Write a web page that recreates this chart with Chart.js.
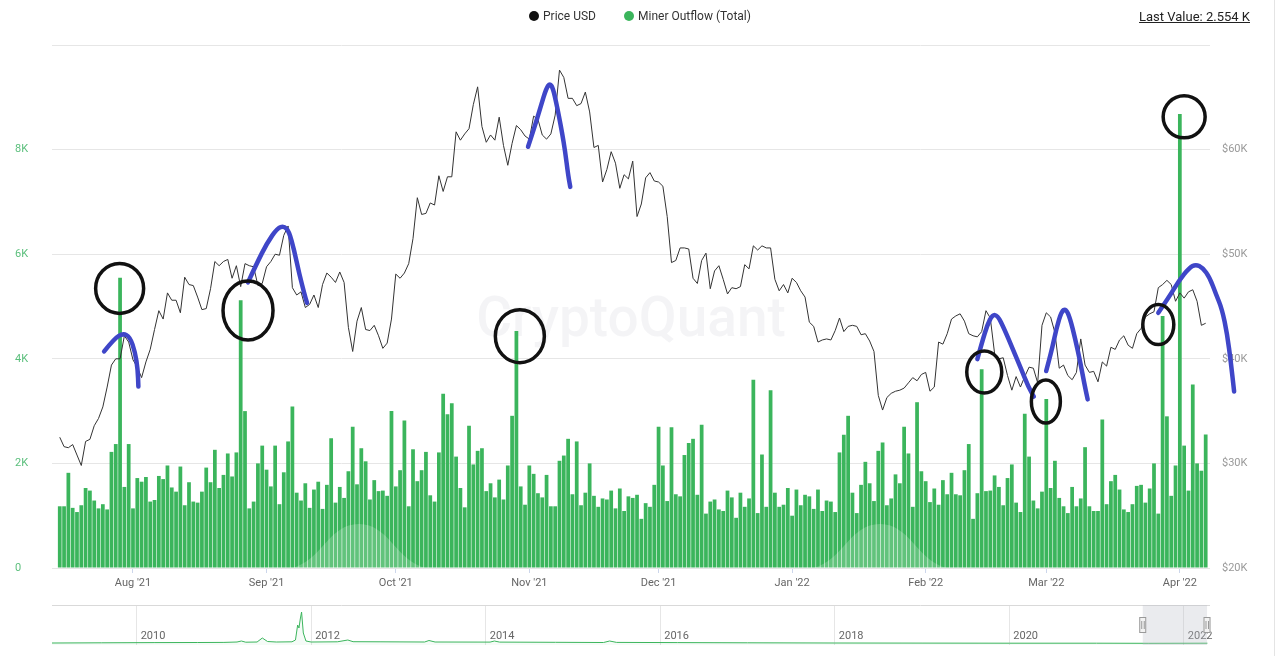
<!DOCTYPE html>
<html>
<head>
<meta charset="utf-8">
<script src="https://cdn.jsdelivr.net/npm/chart.js@4.4.1/dist/chart.umd.min.js"></script>
<style>
html,body{margin:0;padding:0;background:#fff;}
#wrap{position:relative;width:1280px;height:656px;overflow:hidden;font-family:Roboto,'Noto Sans',Arial,sans-serif;}
#mainBox{position:absolute;left:0;top:0;width:1280px;height:600px;}
#navBox{position:absolute;left:0;top:600px;width:1280px;height:56px;}
#legend{position:absolute;left:0;top:9px;width:1280px;display:flex;justify-content:center;font-size:12px;color:#333;line-height:14px;}
#legend .item{display:flex;align-items:center;margin:0 14px;}
#legend .dot{width:10px;height:10px;border-radius:50%;margin-right:4px;}
#lastValue{position:absolute;right:30px;top:9px;font-size:13px;color:#222;text-decoration:underline;line-height:16px;}
#edge{position:absolute;left:1274px;top:0;width:1px;height:656px;background:#e4e4e4;}
</style>
</head>
<body>
<div id="wrap">
  <div id="mainBox"><canvas id="main"></canvas></div>
  <div id="navBox"><canvas id="nav"></canvas></div>
  <div id="legend"></div>
  <div id="lastValue"></div>
  <div id="edge"></div>
</div>
<script>
// ---------------- DATA ----------------
const startDate = [2021, 6, 15]; // 15 Jul 2021 (UTC), one value per day up to 7 Apr 2022

// Miner Outflow (Total), BTC per day
const minerOutflow = [
  // Jul 15-31 2021
  1180,1180,1820,1150,1070,1200,1530,1480,1290,1140,1220,1120,2220,2370,5550,1550,2370,
  // Aug
  1140,1720,1650,1740,1270,1300,1760,1700,1960,1540,1460,1940,1200,1640,1270,1250,1460,1920,1640,2260,
  1530,1780,2190,1750,2210,5120,3000,1140,1270,2000,2340,
  // Sep
  1880,1560,2340,1220,1830,2420,3090,1440,1290,1620,1150,1500,1650,1130,1590,2480,1250,1550,1340,1850,
  2700,1600,2290,2040,1310,1680,1470,1480,1380,3000,
  // Oct
  1560,1870,2820,1180,2270,1660,1870,2220,1390,1270,2210,3330,2940,3150,2130,1530,1160,2720,1980,2240,
  2290,1470,1620,1350,1690,1310,1960,2910,4530,1560,1210,
  // Nov
  1960,1800,1430,1350,1780,1180,1180,2050,2150,2470,1410,2420,1200,1440,2000,1380,1170,1330,1310,1480,
  1140,1520,1090,1370,1340,1400,940,1240,1170,1590,
  // Dec
  2700,1960,1280,2690,1410,1370,2160,2390,2470,1400,2740,1040,1270,1310,1120,1090,1480,1350,960,1440,
  1170,1330,3600,1050,2170,1170,3400,1440,1170,1210,1530,
  // Jan 2022
  1000,1500,1200,1400,1370,1130,1500,1090,1290,1270,1070,2210,2550,2910,1440,1050,1590,2030,1620,1280,
  2240,2400,1200,1330,1790,1620,2700,2190,1170,3170,1850,
  // Feb
  1660,1260,1520,1210,1680,1410,1820,1410,1390,1870,2370,940,1430,3800,1470,1480,1770,1550,1200,1720,
  1980,1250,1070,2950,2130,1290,1140,1460,
  // Mar
  3230,1530,2050,1340,1180,1050,1550,1180,1330,2310,1180,1090,1090,2840,1220,1660,1780,1500,1120,1070,
  1220,1570,1590,1250,1520,2000,1040,4820,2900,1380,1960,
  // Apr 1-7
  8680,2340,1480,3510,2000,1860,2554
];

// Price USD (daily)
const priceUSD = [
  // Jul 15-31 2021
  32500,31600,31500,31800,30800,29800,32100,32300,33600,34300,35400,37300,39400,40000,40000,42200,41600,
  // Aug
  39900,39200,38200,39700,40900,42800,44600,43800,46300,45600,45600,44400,47800,47100,47000,45900,44700,44800,46700,49300,
  48900,49300,49500,47700,48900,46900,49100,48900,48800,47000,47200,
  // Sep
  48800,49300,50000,49900,51800,52700,46800,46100,46400,44900,45200,46100,44900,47100,48200,47800,47300,48300,47300,43000,
  40700,43600,44900,42800,42700,43200,42200,41000,41500,43800,
  // Oct
  48100,47700,48200,49100,51500,55400,53800,53900,54900,54700,57500,56000,57400,57400,61700,60900,61500,62000,64300,66000,
  62200,60700,61400,60900,63100,60400,58500,60600,62300,61900,61300,
  // Nov
  61000,63200,62900,61400,61000,61500,63300,67600,66900,64900,64900,64200,64400,65500,63600,60200,60400,56900,58100,59800,
  58700,56300,57600,57200,58900,53600,54800,57300,57800,57000,
  // Dec
  56900,56500,53600,49200,49400,50600,50600,50500,47700,47200,49400,50100,46700,48400,48900,47600,46200,46800,46700,46900,
  49000,48600,50800,50400,50800,50600,50600,47600,46500,47100,46300,
  // Jan 2022
  47700,47300,46500,45900,43500,43100,41600,41800,41900,41800,42700,43900,42600,43100,43200,43100,42300,42400,41700,40700,
  36500,35100,36300,36700,36900,37000,37200,37700,38200,37900,38500,
  // Feb
  38700,36900,37300,41600,41400,42400,43800,44100,44300,43600,42400,42200,42100,42600,44600,43900,40500,40000,40100,38400,
  37000,38300,37300,38300,39200,39100,37700,43200,
  // Mar
  44400,44000,42500,39100,39400,38400,38000,38700,41900,39400,38700,38800,37800,39700,39300,41100,40900,41800,42200,41300,
  41000,42400,42900,44000,44300,44500,46800,47100,47500,47100,45500,
  // Apr 1-7
  46300,45800,46400,46600,45500,43200,43400
];

const flowTicks  = [0, 2000, 4000, 6000, 8000, 10000];
const priceTicks = [20000, 30000, 40000, 50000, 60000, 70000];
const monthNames = ['Jan','Feb','Mar','Apr','May','Jun','Jul','Aug','Sep','Oct','Nov','Dec'];

// Navigator: full-history overview of the outflow series (year, relative level)
const navYear = [2009.03,2009.6,2010.2,2010.7,2011.0,2011.15,2011.2,2011.25,2011.38,2011.44,2011.5,2011.6,2011.78,2011.82,
  2011.845,2011.86,2011.875,2011.89,2011.91,2011.94,2012.0,2012.3,2012.42,2012.48,2012.8,2013.3,2013.35,2013.42,2014.05,
  2014.1,2014.16,2014.8,2015.35,2015.42,2015.5,2016.2,2017.0,2018.0,2019.0,2020.0,2021.0,2021.6,2022.27];
const navFlow = [20,22,24,25,26,30,40,28,30,70,35,30,32,50,200,170,260,330,120,40,30,32,50,33,32,30,45,30,29,40,29,27,
  25,40,26,24,22,20,19,18,18,17,18];
const navYearTicks = [2010, 2012, 2014, 2016, 2018, 2020, 2022];

// Hand-drawn marks on the screenshot (day index from 15 Jul 2021)
const blackCircles = [
  {day:13.9,  flow:5346, rx:24,   ry:25},
  {day:43.7,  flow:4923, rx:25,   ry:29.5},
  {day:106.8, flow:4433, rx:24.5, ry:26.5},
  {day:214.6, flow:3746, rx:17.5, ry:21},
  {day:228.9, flow:3183, rx:14.5, ry:21.5},
  {day:255.0, flow:4654, rx:15.5, ry:20},
  {day:261.0, flow:8627, rx:21,   ry:21}
];
const blueArcs = [
  [[10.3,40710],[12.7,41956],[14.7,42436],[16.3,42090],[17.5,40614],[18.1,38984],[18.25,37354]],
  [[43.7,47307],[45.7,49100],[48.1,51056],[50.5,52494],[52.05,52686],[53.2,52197],[54.4,50404],[55.6,48122],[56.8,46166],[57.4,45351]],
  [[108.7,60270],[110.1,61995],[111.7,64200],[112.9,65830],[113.8,66358],[114.5,65830],[115.2,64583],[115.9,63145],[116.6,61611],[117.3,59886],[118.0,57585],[118.5,56435]],
  [[213.0,39972],[214.1,41602],[215.3,43232],[216.5,44210],[217.7,44143],[219.2,42906],[221.2,40950],[223.2,38994],[224.8,37364],[226.1,36386]],
  [[228.97,38831],[230.17,40624],[231.35,42906],[232.53,44536],[233.55,44795],[234.5,43884],[235.7,41928],[236.9,39646],[237.8,37690],[238.6,36118]],
  [[255.0,44400],[257.4,45839],[259.8,47469],[262.2,48706],[263.7,49032],[265.3,48706],[266.9,47795],[268.4,46175],[269.8,44737],[271.0,42340],[271.9,39464],[272.6,36875]]
];

// ---------------- BUILD ----------------
const family = "Roboto, 'Noto Sans', Arial, sans-serif";
const dates = minerOutflow.map((_, i) => new Date(Date.UTC(startDate[0], startDate[1], startDate[2] + i)));
const monthStartIdx = dates.map((d, i) => d.getUTCDate() === 1 ? i : -1).filter(i => i >= 0);
const xLabel = i => { const d = dates[Math.round(i)]; return d ? monthNames[d.getUTCMonth()] + " '" + String(d.getUTCFullYear()).slice(2) : ''; };
const xMin = -1.8, xMax = 267;
const fracYear = idx => { const t = Date.UTC(startDate[0], startDate[1], startDate[2]) + idx * 86400000; const d = new Date(t);
  const y = d.getUTCFullYear(); const s = Date.UTC(y,0,1), e = Date.UTC(y+1,0,1); return y + (t - s) / (e - s); };

const COLORS = {price:'#333333', priceDot:'#111111', bar:'#3bb55c'};

const datasets = [
  {type:'line', label:'Price USD', data: priceUSD.map((y, i) => ({x:i, y})), yAxisID:'yPrice', xAxisID:'x',
   borderColor: COLORS.price, backgroundColor: COLORS.priceDot, borderWidth:1, pointRadius:0, tension:0, order:0},
  {type:'bar', label:'Miner Outflow (Total)', data: minerOutflow.map((y, i) => ({x:i, y})), yAxisID:'yFlow', xAxisID:'x',
   backgroundColor: COLORS.bar, borderWidth:0, barPercentage:0.87, categoryPercentage:1, order:1}
];

// HTML legend + last value
const lg = document.getElementById('legend');
datasets.forEach(ds => {
  const it = document.createElement('div'); it.className = 'item';
  const dot = document.createElement('span'); dot.className = 'dot'; dot.style.background = ds.backgroundColor;
  const tx = document.createElement('span'); tx.textContent = ds.label;
  it.appendChild(dot); it.appendChild(tx); lg.appendChild(it);
});
document.getElementById('lastValue').textContent = 'Last Value: ' + (minerOutflow[minerOutflow.length - 1] / 1000).toFixed(3) + ' K';

// faint brand watermark (text + soft logo hills), positioned relative to the plot area
const watermark = {
  id:'watermark',
  beforeDatasetsDraw(chart){
    const {ctx, chartArea:a} = chart;
    ctx.save();
    ctx.font = "500 55px Roboto, 'Noto Sans', sans-serif";
    ctx.fillStyle = 'rgba(30,30,70,0.05)';
    ctx.textAlign = 'center'; ctx.textBaseline = 'middle';
    ctx.fillText('CryptoQuant', (a.left + a.right) / 2, a.top + a.height * 0.53);
    ctx.restore();
  },
  afterDatasetsDraw(chart){
    const {ctx, chartArea:a} = chart;
    const W = a.right - a.left;
    ctx.save();
    ctx.fillStyle = 'rgba(255,255,255,0.2)';
    [0.265, 0.715].forEach(f => {
      const cx = a.left + W * f, w = 66, h = 44;
      ctx.beginPath();
      ctx.moveTo(cx - w, a.bottom);
      ctx.bezierCurveTo(cx - w * 0.55, a.bottom - h * 0.2, cx - w * 0.45, a.bottom - h, cx, a.bottom - h);
      ctx.bezierCurveTo(cx + w * 0.45, a.bottom - h, cx + w * 0.55, a.bottom - h * 0.2, cx + w, a.bottom);
      ctx.closePath(); ctx.fill();
    });
    ctx.restore();
  }
};

const handMarks = {
  id:'handMarks',
  afterDatasetsDraw(chart){
    const {ctx} = chart;
    const xs = chart.scales.x, yf = chart.scales.yFlow, yp = chart.scales.yPrice;
    ctx.save();
    ctx.lineCap = 'round'; ctx.lineJoin = 'round';
    ctx.strokeStyle = '#3f46c8'; ctx.lineWidth = 4.5;
    blueArcs.forEach(arc => {
      const p = arc.map(([d, v]) => [xs.getPixelForValue(d), yp.getPixelForValue(v)]);
      ctx.beginPath(); ctx.moveTo(p[0][0], p[0][1]);
      for (let i = 1; i < p.length - 1; i++) {
        ctx.quadraticCurveTo(p[i][0], p[i][1], (p[i][0] + p[i+1][0]) / 2, (p[i][1] + p[i+1][1]) / 2);
      }
      ctx.lineTo(p[p.length-1][0], p[p.length-1][1]);
      ctx.stroke();
    });
    ctx.strokeStyle = '#111'; ctx.lineWidth = 3.5;
    blackCircles.forEach(c => {
      ctx.beginPath();
      ctx.ellipse(xs.getPixelForValue(c.day), yf.getPixelForValue(c.flow), c.rx, c.ry, 0, 0, Math.PI * 2);
      ctx.stroke();
    });
    ctx.restore();
  }
};

new Chart(document.getElementById('main'), {
  type:'line',
  data:{datasets},
  options:{
    responsive:true, maintainAspectRatio:false, animation:false, events:[],
    layout:{padding:{left:15, right:15, top:45, bottom:0}},
    plugins:{legend:{display:false}, tooltip:{enabled:false}},
    scales:{
      x:{type:'linear', position:'bottom', min:xMin, max:xMax, offset:false,
         afterBuildTicks: s => { s.ticks = monthStartIdx.map(v => ({value:v})); },
         ticks:{autoSkip:false, maxRotation:0, color:'#666', font:{size:11, family}, padding:4, callback: v => xLabel(v)},
         grid:{offset:false, drawOnChartArea:false, drawTicks:true, tickLength:5, color:'#ccd6eb'},
         border:{display:false},
         afterFit: s => { s.height = 32; }},
      yFlow:{type:'linear', position:'left', min:0, max:10000,
         afterBuildTicks: s => { s.ticks = flowTicks.map(v => ({value:v})); },
         ticks:{color:'#5bbf7c', font:{size:11, family}, crossAlign:'far', padding:0,
                callback: v => v === 0 ? '0' : (v < 10000 ? (v / 1000) + 'K' : '')},
         grid:{color:'#e6e6e6', drawTicks:false}, border:{display:false},
         afterFit: s => { s.width = 37; }},
      yPrice:{type:'linear', position:'right', min:20000, max:70000,
         afterBuildTicks: s => { s.ticks = priceTicks.map(v => ({value:v})); },
         ticks:{color:'#999', font:{size:11, family}, padding:12,
                callback: v => v < 70000 ? '$' + (v / 1000) + 'K' : ''},
         grid:{drawOnChartArea:false, drawTicks:false}, border:{display:false},
         afterFit: s => { s.width = 55; }}
    }
  },
  plugins:[watermark, handMarks]
});

// ---------------- NAVIGATOR ----------------
const navMin = 2009.03, navMax = 2022.30;
const selStart = fracYear(xMin), selEnd = fracYear(xMax);
const navDecor = {
  id:'navDecor',
  beforeDatasetsDraw(chart){
    const {ctx, chartArea:a} = chart; const xs = chart.scales.x;
    ctx.save();
    ctx.font = "11px Roboto, 'Noto Sans', sans-serif";
    ctx.fillStyle = '#666'; ctx.textAlign = 'left'; ctx.textBaseline = 'middle';
    navYearTicks.forEach(y => ctx.fillText(String(y), xs.getPixelForValue(y) + 4, a.top + 31));
    ctx.restore();
  },
  afterDraw(chart){
    const {ctx, chartArea:a} = chart; const xs = chart.scales.x;
    ctx.save();
    ctx.strokeStyle = '#d9d9d9'; ctx.lineWidth = 1;
    ctx.beginPath(); ctx.moveTo(a.left, a.top + 0.5); ctx.lineTo(a.right, a.top + 0.5); ctx.stroke();
    const x1 = xs.getPixelForValue(selStart), x2 = xs.getPixelForValue(selEnd);
    ctx.fillStyle = 'rgba(185,188,200,0.3)';
    ctx.fillRect(x1, a.top, x2 - x1, a.bottom - a.top);
    const my = (a.top + a.bottom) / 2;
    [x1, x2].forEach(x => {
      ctx.fillStyle = '#f2f2f2'; ctx.strokeStyle = '#999';
      ctx.fillRect(x - 3.5, my - 8, 7, 16); ctx.strokeRect(x - 3.5 + 0.5, my - 8 + 0.5, 6, 15);
      ctx.beginPath(); ctx.moveTo(x - 1, my - 4); ctx.lineTo(x - 1, my + 4); ctx.moveTo(x + 1.5, my - 4); ctx.lineTo(x + 1.5, my + 4); ctx.stroke();
    });
    ctx.restore();
  }
};
new Chart(document.getElementById('nav'), {
  type:'line',
  data:{datasets:[{data: navYear.map((x, i) => ({x, y: navFlow[i]})), borderColor: COLORS.bar, borderWidth:1,
    pointRadius:0, tension:0, fill:true, backgroundColor:'rgba(59,181,92,0.05)'}]},
  options:{
    responsive:true, maintainAspectRatio:false, animation:false, events:[],
    layout:{padding:{left:52, right:70, top:5, bottom:0}},
    plugins:{legend:{display:false}, tooltip:{enabled:false}},
    scales:{
      x:{type:'linear', min:navMin, max:navMax,
         afterBuildTicks: s => { s.ticks = navYearTicks.map(v => ({value:v})); },
         ticks:{display:false},
         grid:{color:'#e6e6e6', drawTicks:false}, border:{display:false},
         afterFit: s => { s.height = 11; }},
      y:{display:false, min:0, max:400}
    }
  },
  plugins:[navDecor]
});
</script>
</body>
</html>
